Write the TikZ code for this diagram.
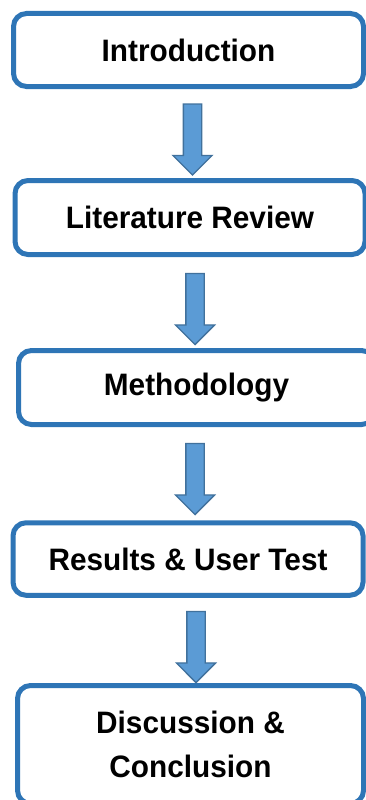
\documentclass[tikz,border=0pt]{standalone}
\usepackage{fontspec}
\setmainfont{Liberation Sans}[FakeStretch=0.96]
\usetikzlibrary{shapes.arrows}
\definecolor{boxblue}{HTML}{2E75B6}
\definecolor{arrowfill}{HTML}{5B9BD5}
\definecolor{arrowline}{HTML}{41719C}
\begin{document}
\begin{tikzpicture}[x=1pt,y=-1pt,
  stage/.style={draw=boxblue, line width=5pt, rounded corners=13pt, fill=white,
    font=\fontsize{31}{44}\selectfont\bfseries, align=center, inner sep=0pt},
  downarrow/.style={single arrow, draw=arrowline, fill=arrowfill, line width=1.3pt,
    rotate=270, inner sep=0pt, inner ysep=8.5pt, single arrow head extend=10.5pt,
    minimum height=71pt, minimum width=38pt}]
  \useasboundingbox (0,0) rectangle (366,800);
  \clip (0,0) rectangle (366,800);
  \node[stage, minimum width=350pt, minimum height=73pt] (intro) at (188.5,50) {Introduction};
  \node[stage, minimum width=350pt, minimum height=74pt] (lit) at (190,217.5) {Literature Review};
  \node[stage, minimum width=356pt, minimum height=74pt] (meth) at (196.5,387.5) {Methodology};
  \node[stage, minimum width=350pt, minimum height=72.5pt] (res) at (188,559) {Results \& User Test};
  \node[stage, minimum width=346pt, minimum height=118pt] (disc) at (190.5,744.5) {Discussion \&\\Conclusion};
  \node[downarrow] (a1) at (192.5,135) {};
  \node[downarrow] (a2) at (195,304.5) {};
  \node[downarrow] (a3) at (195,474.5) {};
  \node[downarrow] (a4) at (196,642.5) {};
\end{tikzpicture}
\end{document}
